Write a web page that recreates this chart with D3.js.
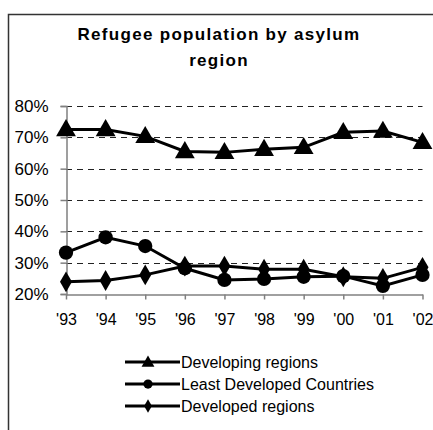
<!DOCTYPE html>
<html><head><meta charset="utf-8">
<script src="https://cdn.jsdelivr.net/npm/d3@7"></script>
<style>body{margin:0;background:#fff}svg{display:block}</style>
</head><body>
<svg id="c" width="433" height="430"></svg>
<script>
const years = ["'93","'94","'95","'96","'97","'98","'99","'00","'01","'02"];
const developing = [72.5,72.5,70.3,65.5,65.2,66.2,66.8,71.6,72.0,68.4];
const ldc = [33.2,38.1,35.3,28.2,24.5,24.8,25.5,25.7,22.6,26.1];
const developed = [23.9,24.3,26.1,28.9,28.9,27.9,27.9,25.5,25.0,28.5];
const yTicks = [20,30,40,50,60,70,80];
const seriesNames = ["Developing regions","Least Developed Countries","Developed regions"];
const title = ["Refugee population by asylum","region"];

const svg = d3.select("#c");
const font = "Arial, 'Liberation Sans', sans-serif";

// outer frame (cropped chart area)
svg.append("rect").attr("x",8.5).attr("y",14.5).attr("width",440).attr("height",440)
  .attr("fill","none").attr("stroke","#333").attr("stroke-width",1.5);

// title
svg.append("text").attr("x",219).attr("y",40).attr("text-anchor","middle")
  .attr("font-family",font).attr("font-weight","bold").attr("font-size",17).attr("letter-spacing","1.3px")
  .selectAll("tspan").data(title).join("tspan")
  .attr("x",219).attr("dy",(d,i)=>i?26:0).text(d=>d);

const x = d3.scalePoint().domain(years).range([66,422.5]);
const y = d3.scaleLinear().domain([20,80]).range([294,106]);

// gridlines
svg.append("g").selectAll("line").data(yTicks.filter(d=>d>20)).join("line")
  .attr("x1",66).attr("x2",422.5).attr("y1",d=>Math.round(y(d))+0.5).attr("y2",d=>Math.round(y(d))+0.5)
  .attr("stroke","#222").attr("stroke-width",1).attr("stroke-dasharray","6,5");

// y axis
const ya = svg.append("g").attr("transform","translate(66.5,0)")
  .call(d3.axisLeft(y).tickValues(yTicks).tickSize(6).tickPadding(12).tickFormat(d=>d+"%"));
ya.select(".domain").attr("stroke","#808080").attr("stroke-width",1.5);
ya.selectAll(".tick line").attr("stroke","#808080").attr("stroke-width",1.5);
ya.selectAll("text").attr("font-family",font).attr("font-size",17).attr("fill","#000");

// x axis
const xa = svg.append("g").attr("transform","translate(0,294.5)")
  .call(d3.axisBottom(x).tickSize(5).tickSizeOuter(0).tickPadding(14));
xa.select(".domain").attr("stroke","#808080").attr("stroke-width",1.5);
xa.selectAll(".tick line").attr("stroke","#808080").attr("stroke-width",1.5);
xa.selectAll("text").attr("font-family",font).attr("font-size",16).attr("fill","#000");

const series = [
  {name:seriesNames[0], values:developing, sym:d3.symbolTriangle, size:170},
  {name:seriesNames[1], values:ldc, sym:d3.symbolCircle, size:160},
  {name:seriesNames[2], values:developed, sym:d3.symbolDiamond, size:125}
];
const line = d3.line().x((d,i)=>x(years[i])).y(d=>y(d));
series.slice().reverse().forEach(s=>{
  svg.append("path").attr("d",line(s.values)).attr("fill","none").attr("stroke","#000").attr("stroke-width",3);
  svg.append("g").selectAll("path").data(s.values).join("path")
    .attr("transform",(d,i)=>`translate(${x(years[i])},${y(d)+(s.sym===d3.symbolTriangle?1:0)})`)
    .attr("d",d3.symbol().type(s.sym).size(s.size)).attr("fill","#000");
});

// legend
const lg = svg.append("g");
const rows = [362,384,406];
series.forEach((s,i)=>{
  const g = lg.append("g").attr("transform",`translate(0,${rows[i]})`);
  g.append("line").attr("x1",125).attr("x2",180).attr("y1",0).attr("y2",0).attr("stroke","#000").attr("stroke-width",3);
  g.append("path").attr("transform",`translate(148,${s.sym===d3.symbolTriangle?1:0})`)
    .attr("d",d3.symbol().type(s.sym).size(s.size*0.42)).attr("fill","#000");
  g.append("text").attr("x",181).attr("y",6).attr("font-family",font).attr("font-size",16).text(s.name);
});
</script>
</body></html>
